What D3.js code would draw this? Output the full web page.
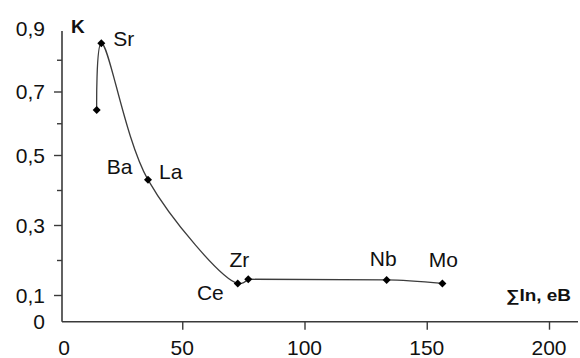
<!DOCTYPE html>
<html><head><meta charset="utf-8">
<script src="https://cdn.jsdelivr.net/npm/d3@7"></script>
<style>body{margin:0;background:#fff}svg{display:block}text{font-family:"Liberation Sans",Arial,sans-serif;fill:#111}</style>
</head><body><svg id="c" width="580" height="358"></svg>
<script>
// ---- data ----
const elements = ["Ba", "Sr", "La", "Ce", "Zr", "Nb", "Mo"];
const sumIn    = [15.0, 16.9, 36.0, 72.7, 77.0, 133.6, 156.4];
const kValues  = [0.642, 0.852, 0.429, 0.133, 0.145, 0.143, 0.133];
const xTickValues = [0, 50, 100, 150, 200];
const yTickLabelValues = [0, 0.1, 0.3, 0.5, 0.7, 0.9];
const yMajorTickValues = [0.1, 0.3, 0.5, 0.7];
const yMinorTickValues = [0.2, 0.4, 0.6, 0.8];
const yTitle = "K";
const xTitle = "\u2211In, eB";

const fmt = v => String(v).replace(".", ",");

const svg = d3.select("#c");
const x = d3.scaleLinear().domain([0, 200]).range([60, 549]);
// the original figure's vertical axis is not perfectly uniform
const y = d3.scaleLinear().domain([0, 0.1, 0.5, 0.9]).range([321.7, 295, 155, 28]);

const axisColor = "#3a3a3a";
const ax0 = 62;

// Y axis line
svg.append("line").attr("x1", ax0).attr("x2", ax0).attr("y1", 31).attr("y2", y(0))
  .attr("stroke", axisColor).attr("stroke-width", 1.6);
// X axis line
svg.append("line").attr("x1", ax0).attr("x2", 578).attr("y1", y(0)).attr("y2", y(0))
  .attr("stroke", axisColor).attr("stroke-width", 1.6);

// Y ticks
const gy = svg.append("g").attr("transform", `translate(${ax0},0)`);
gy.call(d3.axisLeft(y).tickValues(yMajorTickValues).tickSize(8).tickFormat(""));
gy.select(".domain").remove();
gy.selectAll(".tick line").attr("stroke", axisColor).attr("stroke-width", 1.4);
const gy2 = svg.append("g").attr("transform", `translate(${ax0},0)`);
gy2.call(d3.axisLeft(y).tickValues(yMinorTickValues).tickSize(5).tickFormat(""));
gy2.select(".domain").remove();
gy2.selectAll(".tick line").attr("stroke", axisColor).attr("stroke-width", 1.4);

svg.append("g").selectAll("text").data(yTickLabelValues).join("text")
  .attr("x", 45).attr("y", d => y(d)).attr("dy", "0.36em")
  .attr("text-anchor", "end").attr("font-size", 21).text(d => fmt(d));

// X ticks
const gx = svg.append("g").attr("transform", `translate(0,${y(0)})`);
gx.call(d3.axisBottom(x).tickValues(xTickValues.filter(v => v > 0)).tickSize(8).tickFormat(""));
gx.select(".domain").remove();
gx.selectAll(".tick line").attr("stroke", axisColor).attr("stroke-width", 1.4);

svg.append("g").selectAll("text").data(xTickValues).join("text")
  .attr("x", d => d === 0 ? x(d) + 4 : x(d)).attr("y", 355)
  .attr("text-anchor", "middle").attr("font-size", 21).text(d => d);

// titles
svg.append("text").attr("x", 71).attr("y", 33).attr("font-size", 19)
  .attr("font-weight", "bold").text(yTitle);
svg.append("text").attr("x", 506).attr("y", 301).attr("font-size", 16)
  .attr("font-weight", "bold").attr("textLength", 65).attr("lengthAdjust", "spacingAndGlyphs")
  .text(xTitle);

// data
const pts = elements.map((e, i) => ({ name: e, x: sumIn[i], k: kValues[i] }));

// smoothed curve: steep part through Zr, then the nearly flat tail
const lineA = d3.line().x(d => x(d.x)).y(d => y(d.k)).curve(d3.curveCatmullRom.alpha(0.5));
const lineB = d3.line().x(d => x(d.x)).y(d => y(d.k)).curve(d3.curveMonotoneX);
svg.append("path").datum(pts.slice(0, 5)).attr("d", lineA)
  .attr("fill", "none").attr("stroke", "#3c3c3c").attr("stroke-width", 1.3);
svg.append("path").datum(pts.slice(4)).attr("d", lineB)
  .attr("fill", "none").attr("stroke", "#3c3c3c").attr("stroke-width", 1.3);

const sym = d3.symbol().type(d3.symbolSquare).size(32);
svg.append("g").selectAll("path").data(pts).join("path")
  .attr("d", sym)
  .attr("transform", d => `translate(${x(d.x)},${y(d.k)}) rotate(45)`)
  .attr("fill", "#000");

// point labels (offsets from each point)
const labelPos = {
  Ba: { dx: 10, dy: 64, anchor: "start" },
  Sr: { dx: 12, dy: 2.5, anchor: "start" },
  La: { dx: 11, dy: -1, anchor: "start" },
  Ce: { dx: -14, dy: 17, anchor: "end" },
  Zr: { dx: 1, dy: -12, anchor: "end" },
  Nb: { dx: -3.5, dy: -13.5, anchor: "middle" },
  Mo: { dx: 1, dy: -16.5, anchor: "middle" }
};
svg.append("g").selectAll("text").data(pts).join("text")
  .attr("x", d => x(d.x) + labelPos[d.name].dx)
  .attr("y", d => y(d.k) + labelPos[d.name].dy)
  .attr("text-anchor", d => labelPos[d.name].anchor)
  .attr("font-size", 21).text(d => d.name);
</script>
</body></html>
